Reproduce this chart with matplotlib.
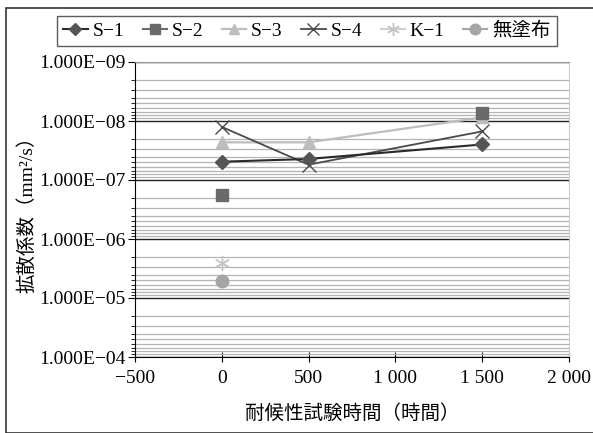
import numpy as np
import matplotlib.pyplot as plt
from matplotlib.ticker import FixedLocator, LogLocator, FuncFormatter, NullFormatter
from matplotlib.patches import Rectangle

plt.rcParams['font.family'] = ['Liberation Serif', 'Noto Sans CJK JP']
plt.rcParams['axes.unicode_minus'] = True

hours = [0, 500, 1500]
s1 = [4.9e-8, 4.4e-8, 2.5e-8]
s2 = [1.8e-7, np.nan, 7.2e-9]
s3 = [2.3e-8, 2.3e-8, 8.7e-9]
s4 = [1.26e-8, 5.5e-8, 1.5e-8]
k1_hours = [0]
k1 = [2.6e-6]
bare_hours = [0]
bare = [5.1e-6]

series_names = ['S\u22121', 'S\u22122', 'S\u22123', 'S\u22124', 'K\u22121', '無塗布']
x_ticks = [-500, 0, 500, 1000, 1500, 2000]
x_tick_labels = ['\u2212500', '0', '500', '1 000', '1 500', '2 000']

fig = plt.figure(figsize=(5.93, 4.33), dpi=100)
ax = fig.add_axes([135/593, 1-357/433, (569-135)/593, (357-62)/433])

ax.set_yscale('log')
ax.set_ylim(1e-4, 1e-9)
ax.set_xlim(-500, 2000)

ax.yaxis.set_major_locator(LogLocator(base=10, numticks=10))
ax.yaxis.set_minor_locator(LogLocator(base=10, subs=np.arange(2, 10), numticks=20))
ax.yaxis.set_major_formatter(FuncFormatter(
    lambda v, p: '1.000E\u2212%02d' % round(-np.log10(v))))
ax.yaxis.set_minor_formatter(NullFormatter())
ax.xaxis.set_major_locator(FixedLocator(x_ticks))
ax.set_xticklabels(x_tick_labels)

ax.grid(True, which='minor', axis='y', color='#b4b4b4', lw=0.9)
ax.grid(True, which='major', axis='y', color='#222222', lw=1.0)
ax.set_axisbelow(True)

ax.tick_params(axis='y', which='major', direction='out', length=5, labelsize=14,
               color='black', pad=2)
ax.tick_params(axis='y', which='minor', direction='out', length=3, color='black')
ax.tick_params(axis='x', which='major', direction='inout', length=7, labelsize=14,
               color='black', pad=6)

ax.spines['left'].set_color('black')
ax.spines['bottom'].set_color('black')
ax.spines['top'].set_color('#999999')
ax.spines['right'].set_color('#cccccc')

l3, = ax.plot(hours, s3, color='#bdbdbd', lw=1.6, marker='^', ms=9, mfc='#bdbdbd',
              mec='#bdbdbd', zorder=3)
l4, = ax.plot(hours, s4, color='#4a4a4a', lw=1.3, marker='x', ms=10, mew=1.0,
              zorder=4)
l1, = ax.plot(hours, s1, color='#2a2a2a', lw=1.5, marker='D', ms=7, mfc='#555555',
              mec='#555555', zorder=5)
l2, = ax.plot(hours, s2, color='#6a6a6a', lw=1.5, marker='s', ms=9, mfc='#6a6a6a',
              mec='#6a6a6a', zorder=5)
lk, = ax.plot(k1_hours, k1, color='#cfcfcf', lw=1.5, marker=(6, 2, 0), ms=11, mew=1.0,
              mec='#c4c4c4', zorder=4)
lb, = ax.plot(bare_hours, bare, color='#a5a5a5', lw=1.5, marker='o', ms=9, mfc='#a5a5a5',
              mec='#a5a5a5', zorder=4)

leg = fig.legend([l1, l2, l3, l4, lk, lb], series_names,
                 loc='center', bbox_to_anchor=(307/593, 1-31/433), ncol=6,
                 fontsize=14, frameon=True, fancybox=False, handlelength=1.25,
                 handletextpad=0.25, columnspacing=0.95, borderpad=0.3,
                 markerscale=0.85, edgecolor='#333333')
leg.get_frame().set_linewidth(1.0)

ax.set_ylabel('拡散係数（mm²/s）', fontsize=14, labelpad=2)
ax.set_xlabel('耐候性試験時間（時間）', fontsize=14, labelpad=12)

fig.patches.append(Rectangle((6/593, 0), 1, 1-8/433, transform=fig.transFigure,
                             fill=False, edgecolor='#333333', lw=1.2))

fig.savefig('out.png', dpi=100)
